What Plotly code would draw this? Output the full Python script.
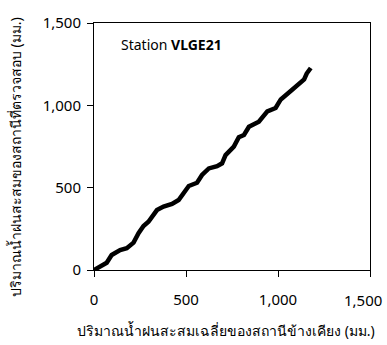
import plotly.graph_objects as go

# Cumulative mean rainfall of neighbouring stations (mm)
neighbor_cum = [0, 33, 69, 96, 142, 178, 215, 242, 269, 296, 324, 342, 378, 424, 460,
                487, 515, 560, 587, 624, 669, 696, 715, 760, 787, 815, 842, 896, 942,
                987, 1015, 1069, 1115, 1142, 1156, 1178]
# Cumulative rainfall of station under test (mm)
station_cum = [0, 20, 44, 91, 121, 132, 166, 223, 267, 293, 334, 364, 385, 401, 425,
               466, 510, 530, 577, 617, 631, 648, 698, 749, 806, 820, 870, 901, 963,
               984, 1036, 1087, 1137, 1157, 1193, 1227]

tick_vals = [0, 500, 1000, 1500]
tick_text = ["0", "500", "1,000", "1,500"]

font_main = "Tahoma, 'Noto Sans', 'DejaVu Sans', sans-serif"
tick_font = dict(family=font_main, size=15, color="black")

fig = go.Figure()
fig.add_trace(go.Scatter(
    x=neighbor_cum, y=station_cum, mode="lines",
    line=dict(color="black", width=4.5),
    showlegend=False, hoverinfo="skip"))

axis_common = dict(
    range=[0, 1500], tickvals=tick_vals,
    showgrid=False, zeroline=False, automargin=False,
    showline=True, linecolor="black", linewidth=1, mirror=True,
    ticks="outside", ticklen=6, tickcolor="black", tickwidth=1,
    ticklabeloverflow="allow", tickfont=tick_font,
)

# last x tick label is nudged inward (as in the original) via an annotation
x_tick_text = tick_text[:-1] + [""]

fig.update_layout(
    width=387, height=345,
    margin=dict(l=94, r=17, t=23, b=75),
    plot_bgcolor="white", paper_bgcolor="white",
    xaxis=dict(**axis_common, ticktext=x_tick_text, ticklabelstandoff=10),
    yaxis=dict(**axis_common, ticktext=tick_text, ticklabelstandoff=3),
    annotations=[
        dict(x=0.09, y=0.911, xref="paper", yref="paper", xanchor="left",
             yanchor="middle", text="Station <b>VLGE21</b>", showarrow=False,
             font=dict(family=font_main, size=14, color="black")),
        dict(x=1, y=0, xref="paper", yref="paper", xanchor="right",
             yanchor="middle", xshift=14, yshift=-30, showarrow=False,
             text=tick_text[-1], font=tick_font),
        dict(x=0.478, y=0, xref="paper", yref="paper", xanchor="center",
             yanchor="middle", yshift=-60, showarrow=False,
             text="ปริมาณน้ำฝนสะสมเฉลี่ยของสถานีข้างเคียง (มม.)",
             font=dict(family=font_main, size=14, color="black")),
        dict(x=0, y=0.457, xref="paper", yref="paper", xanchor="center",
             yanchor="middle", xshift=-79, textangle=-90, showarrow=False,
             text="ปริมาณน้ำฝนสะสมของสถานีที่ตรวจสอบ (มม.)",
             font=dict(family=font_main, size=14, color="black")),
    ],
)

fig.write_html("out.html", config={"displayModeBar": False},
               post_script="document.body.style.margin='0px';")
